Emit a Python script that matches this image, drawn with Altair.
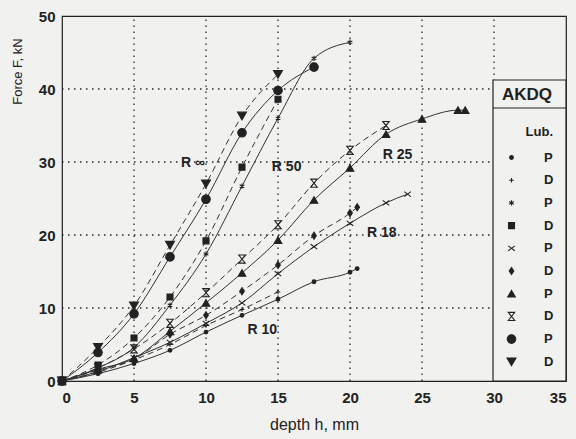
import altair as alt
import pandas as pd

# ---------------- data ----------------
series_names = ["R10 P", "R10 D", "R50 P", "R50 D", "R18 P", "R18 D",
                "R25 P", "R25 D", "Rinf P", "Rinf D"]

r10_p_x = [0, 2.5, 5, 7.5, 10, 12.5, 15, 17.5, 20, 20.5]
r10_p_y = [0, 1.0, 2.4, 4.2, 6.7, 9.0, 11.2, 13.6, 14.9, 15.4]
r10_d_x = [0, 2.5, 5, 7.5, 10, 12.5, 15]
r10_d_y = [0, 1.2, 2.9, 5.0, 7.6, 9.8, 12.2]

r50_p_x = [0, 2.5, 5, 7.5, 10, 12.5, 15, 17.5, 20]
r50_p_y = [0, 1.8, 4.6, 10.4, 17.4, 26.7, 36.0, 44.2, 46.4]
r50_d_x = [0, 2.5, 5, 7.5, 10, 12.5, 15]
r50_d_y = [0, 2.2, 5.9, 11.5, 19.2, 29.3, 38.6]

r18_p_x = [0, 2.5, 5, 7.5, 10, 12.5, 15, 17.5, 20, 22.5, 24]
r18_p_y = [0, 1.3, 3.2, 5.3, 7.9, 10.7, 14.7, 18.4, 21.6, 24.4, 25.6]
r18_d_x = [0, 2.5, 5, 7.5, 10, 12.5, 15, 17.5, 20, 20.5]
r18_d_y = [0, 1.5, 3.0, 6.4, 9.0, 12.3, 15.9, 19.9, 23.0, 23.8]

r25_p_x = [0, 2.5, 5, 7.5, 10, 12.5, 15, 17.5, 20, 22.5, 25, 27.5, 28]
r25_p_y = [0, 1.6, 3.1, 6.8, 10.7, 14.8, 19.3, 24.8, 29.2, 33.8, 35.9, 37.1, 37.1]
r25_d_x = [0, 2.5, 5, 7.5, 10, 12.5, 15, 17.5, 20, 22.5]
r25_d_y = [0, 1.8, 4.4, 7.9, 12.1, 16.7, 21.4, 27.1, 31.6, 35.0]

rinf_p_x = [0, 2.5, 5, 7.5, 10, 12.5, 15, 17.5]
rinf_p_y = [0, 3.9, 9.2, 17.0, 24.9, 34.0, 39.8, 43.0]
rinf_d_x = [0, 2.5, 5, 7.5, 10, 12.5, 15]
rinf_d_y = [0, 4.6, 10.3, 18.6, 27.0, 36.3, 42.0]

label_text = ["R \u221e", "R 50", "R 25", "R 18", "R 10"]
label_x = [9.1, 15.6, 23.3, 22.2, 13.9]
label_y = [29.9, 29.3, 31.0, 20.3, 7.0]

x_ticks = [0, 5, 10, 15, 20, 25, 30, 35]
y_ticks = [0, 10, 20, 30, 40, 50]

# ---------------- build tables ----------------
series_xy = [
    (r10_p_x, r10_p_y), (r10_d_x, r10_d_y),
    (r50_p_x, r50_p_y), (r50_d_x, r50_d_y),
    (r18_p_x, r18_p_y), (r18_d_x, r18_d_y),
    (r25_p_x, r25_p_y), (r25_d_x, r25_d_y),
    (rinf_p_x, rinf_p_y), (rinf_d_x, rinf_d_y),
]
rows = []
for name, (xs, ys) in zip(series_names, series_xy):
    for i, (xv, yv) in enumerate(zip(xs, ys)):
        rows.append({"series": name, "lub": name.split()[-1], "h": xv, "F": yv, "i": i})
df = pd.DataFrame(rows)
df_p = df[df["lub"] == "P"]
df_d = df[df["lub"] == "D"]
ann = pd.DataFrame({"text": label_text, "h": label_x, "F": label_y})

# grid lines from the tick values (horizontal ones end at the legend box, x = 30)
x_lo, x_hi, x_box = x_ticks[0], x_ticks[-1], x_ticks[-2]
y_lo, y_hi = y_ticks[0], y_ticks[-1]
grid_rows = []
for xv in x_ticks[1:-1]:
    grid_rows += [{"gid": f"v{xv}", "h": xv, "F": y_lo, "i": 0},
                  {"gid": f"v{xv}", "h": xv, "F": y_hi, "i": 1}]
for yv in y_ticks[1:-1]:
    grid_rows += [{"gid": f"h{yv}", "h": x_lo, "F": yv, "i": 0},
                  {"gid": f"h{yv}", "h": x_box, "F": yv, "i": 1}]
grid_df = pd.DataFrame(grid_rows)

# ---------------- styling ----------------
FONT = "Liberation Sans"
INK = "#222222"
BG = "#f1f1ef"
GRID = "#2a2a2a"

SH_PLUS = "M-1,0L1,0M0,-1L0,1"
SH_AST = "M0,-1L0,1M-0.87,-0.5L0.87,0.5M-0.87,0.5L0.87,-0.5"
SH_X = "M-1,-0.75L1,0.75M-1,0.75L1,-0.75"
SH_DIAM = "M0,-1L0.65,0L0,1L-0.65,0Z"
SH_HOUR = "M-0.8,-1L0.8,-1L-0.8,1L0.8,1Z"

shape_range = ["circle", SH_PLUS, SH_AST, "square", SH_X, SH_DIAM,
               "triangle-up", SH_HOUR, "circle", "triangle-down"]
fill_range = [INK, "transparent", "transparent", INK, "transparent", INK,
              INK, "transparent", INK, INK]
stroke_range = [INK] * 10
size_range = [14, 80, 80, 28, 70, 70, 70, 80, 110, 80]

xscale = alt.Scale(domain=[x_lo, x_hi], nice=False, zero=False)
yscale = alt.Scale(domain=[y_lo, y_hi], nice=False, zero=False)

x_axis = alt.Axis(values=x_ticks, grid=False, tickSize=0, domain=False,
                  labelPadding=9, labelFontSize=15, labelFontWeight="bold",
                  labelFont=FONT, labelColor=INK,
                  title="depth  h, mm", titleFont=FONT, titleFontSize=16,
                  titleFontWeight="normal", titleColor=INK, titlePadding=11)
y_axis = alt.Axis(values=y_ticks, grid=False, tickSize=0, domain=False,
                  labelPadding=7, labelFontSize=15, labelFontWeight="bold",
                  labelFont=FONT, labelColor=INK,
                  title="Force F, kN", titleFont=FONT, titleFontSize=13,
                  titleFontWeight="normal", titleColor=INK,
                  titleX=-45, titleY=55, titleAngle=270, titleAlign="center",
                  titleBaseline="middle")

X = alt.X("h:Q", scale=xscale, axis=x_axis)
Y = alt.Y("F:Q", scale=yscale, axis=y_axis)

grid = alt.Chart(grid_df).mark_line(color=GRID, strokeWidth=1.3, strokeDash=[1.5, 4.5]).encode(
    x=X, y=Y, detail="gid:N", order="i:Q"
)

lines_p = alt.Chart(df_p).mark_line(interpolate="monotone", color="#333", strokeWidth=1).encode(
    x=X, y=Y, detail="series:N", order="i:Q"
)
lines_d = alt.Chart(df_d).mark_line(interpolate="monotone", color="#333", strokeWidth=1,
                                    strokeDash=[6, 4]).encode(
    x=X, y=Y, detail="series:N", order="i:Q"
)

legend = alt.Legend(title="Lub.", orient="none", legendX=443, legendY=110,
                    padding=0, titleAnchor="end", titleFont=FONT, titleFontSize=13,
                    titleFontWeight="bold", titleColor=INK, titlePadding=12,
                    labelFont=FONT, labelFontSize=13, labelFontWeight="bold",
                    labelColor=INK, labelOffset=26, rowPadding=8.7,
                    labelExpr="substring(datum.label, length(datum.label) - 1)",
                    symbolStrokeWidth=1.1, zindex=1)

points = alt.Chart(df).mark_point(filled=True, strokeWidth=1.1, opacity=1).encode(
    x=X, y=Y,
    shape=alt.Shape("series:N", scale=alt.Scale(domain=series_names, range=shape_range), legend=legend),
    fill=alt.Fill("series:N", scale=alt.Scale(domain=series_names, range=fill_range), legend=legend),
    stroke=alt.Stroke("series:N", scale=alt.Scale(domain=series_names, range=stroke_range), legend=legend),
    size=alt.Size("series:N", scale=alt.Scale(domain=series_names, range=size_range), legend=legend),
)

labels = alt.Chart(ann).mark_text(font=FONT, fontSize=14, fontWeight="bold", color=INK).encode(
    x=X, y=Y, text="text:N",
)

one = pd.DataFrame({"k": [1]})
box = alt.Chart(one).mark_rect(fill=BG, stroke=INK, strokeWidth=1.2).encode(
    x=alt.value(431), x2=alt.value(504), y=alt.value(64), y2=alt.value(365)
)
divider = alt.Chart(one).mark_rule(color=INK, strokeWidth=1.2).encode(
    x=alt.value(431), x2=alt.value(504), y=alt.value(92)
)
akdq = alt.Chart(one).mark_text(text="AKDQ", font=FONT, fontSize=17, fontWeight="bold",
                                color=INK).encode(x=alt.value(465), y=alt.value(79))

chart = alt.layer(grid, lines_p, lines_d, points, labels, box, divider, akdq).properties(
    width=504, height=365,
    padding={"left": 62, "top": 16, "right": 10, "bottom": 58},
    autosize="none",
    background=BG,
).configure_view(stroke=INK, strokeWidth=1.2)

chart.save("out.html", embed_options={"renderer": "svg", "actions": False})
